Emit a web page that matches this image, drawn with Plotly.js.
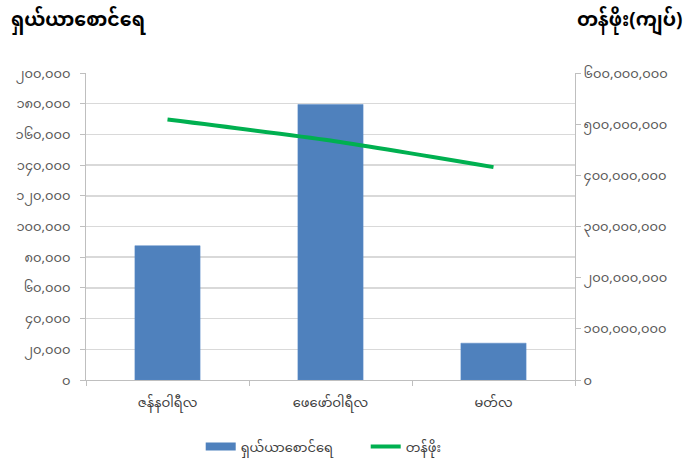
<!DOCTYPE html>
<html>
<head>
<meta charset="utf-8">
<script src="https://cdn.plot.ly/plotly-3.0.1.min.js"></script>
<style>
html,body{margin:0;padding:0;background:#fff;}
#chart{width:688px;height:468px;}
</style>
</head>
<body>
<div id="chart"></div>
<script>
var categories = ['ဇန်နဝါရီလ', 'ဖေဖော်ဝါရီလ', 'မတ်လ'];
var shareCounts = [87500, 179500, 24000];
var shareValues = [509000000, 468000000, 416000000];
var barName = 'ရှယ်ယာစောင်ရေ';
var lineName = 'တန်ဖိုး';
var leftTitle = 'ရှယ်ယာစောင်ရေ';
var rightTitle = 'တန်ဖိုး(ကျပ်)';
var leftTickVals = [0, 20000, 40000, 60000, 80000, 100000, 120000, 140000, 160000, 180000, 200000];
var leftTickText = ['၀', '၂၀,၀၀၀', '၄၀,၀၀၀', '၆၀,၀၀၀', '၈၀,၀၀၀', '၁၀၀,၀၀၀', '၁၂၀,၀၀၀', '၁၄၀,၀၀၀', '၁၆၀,၀၀၀', '၁၈၀,၀၀၀', '၂၀၀,၀၀၀'];
var rightTickVals = [0, 100000000, 200000000, 300000000, 400000000, 500000000, 600000000];
var rightTickText = ['၀', '၁၀၀,၀၀၀,၀၀၀', '၂၀၀,၀၀၀,၀၀၀', '၃၀၀,၀၀၀,၀၀၀', '၄၀၀,၀၀၀,၀၀၀', '၅၀၀,၀၀၀,၀၀၀', '၆၀၀,၀၀၀,၀၀၀'];

var FONT = '"Noto Sans Myanmar", "Padauk", "Myanmar Text", "Noto Sans", sans-serif';
var BAR_COLOR = '#4F81BD';

var traces = [
  {
    type: 'bar', x: categories, y: shareCounts, name: barName,
    marker: {color: BAR_COLOR, line: {color: '#5B8BC6', width: 0.5}},
    width: 0.4, yaxis: 'y', showlegend: false
  },
  {
    // legend entry for the bars, drawn as a wide rectangle like the reference
    type: 'scatter', mode: 'lines', x: [null], y: [null], name: barName,
    line: {color: BAR_COLOR, width: 8}, yaxis: 'y', showlegend: true
  },
  {
    type: 'scatter', mode: 'lines', x: categories, y: shareValues, name: lineName,
    line: {color: '#00B050', width: 4, shape: 'spline', smoothing: 0.6},
    yaxis: 'y2'
  }
];

var layout = {
  width: 688, height: 468,
  margin: {l: 86, r: 113, t: 73, b: 88, autoexpand: false},
  paper_bgcolor: '#ffffff', plot_bgcolor: '#ffffff',
  font: {family: FONT, size: 13, color: '#595959'},
  showlegend: true,
  legend: {orientation: 'h', x: 0.572, xanchor: 'center', yref: 'container', y: 0.046, yanchor: 'middle',
           font: {size: 13, color: '#404040'}, traceorder: 'normal', itemwidth: 30,
           entrywidth: 120, entrywidthmode: 'pixels'},
  xaxis: {
    type: 'category', showline: true, linecolor: '#BFBFBF', linewidth: 1,
    ticks: 'outside', tickson: 'boundaries', ticklen: 5, tickcolor: '#BFBFBF',
    showgrid: false, tickfont: {size: 13, color: '#404040'}, fixedrange: true,
    ticklabelstandoff: 10, automargin: false
  },
  yaxis: {
    range: [0, 200000], tickvals: leftTickVals, ticktext: leftTickText,
    showline: true, linecolor: '#BFBFBF', linewidth: 1,
    ticks: 'outside', ticklen: 5, tickcolor: '#BFBFBF',
    showgrid: true, gridcolor: '#D9D9D9', gridwidth: 1.5, zeroline: false,
    tickfont: {size: 13, color: '#595959'}, ticklabelstandoff: 7, automargin: false
  },
  yaxis2: {
    range: [0, 600000000], tickvals: rightTickVals, ticktext: rightTickText,
    overlaying: 'y', side: 'right',
    showline: true, linecolor: '#BFBFBF', linewidth: 1,
    ticks: 'outside', ticklen: 5, tickcolor: '#BFBFBF',
    showgrid: false, zeroline: false, automargin: false,
    tickfont: {size: 13, color: '#595959'}
  },
  annotations: [
    {text: '<b>' + leftTitle + '</b>', xref: 'paper', yref: 'paper', x: 0, xshift: -77, xanchor: 'left',
     y: 1, yshift: 52, yanchor: 'middle', showarrow: false, font: {size: 19, color: '#000000'}},
    {text: '<b>' + rightTitle + '</b>', xref: 'paper', yref: 'paper', x: 1, xshift: 109, xanchor: 'right',
     y: 1, yshift: 52, yanchor: 'middle', showarrow: false, font: {size: 19, color: '#000000'}}
  ]
};

Plotly.newPlot('chart', traces, layout, {displayModeBar: false, staticPlot: true});
</script>
</body>
</html>
